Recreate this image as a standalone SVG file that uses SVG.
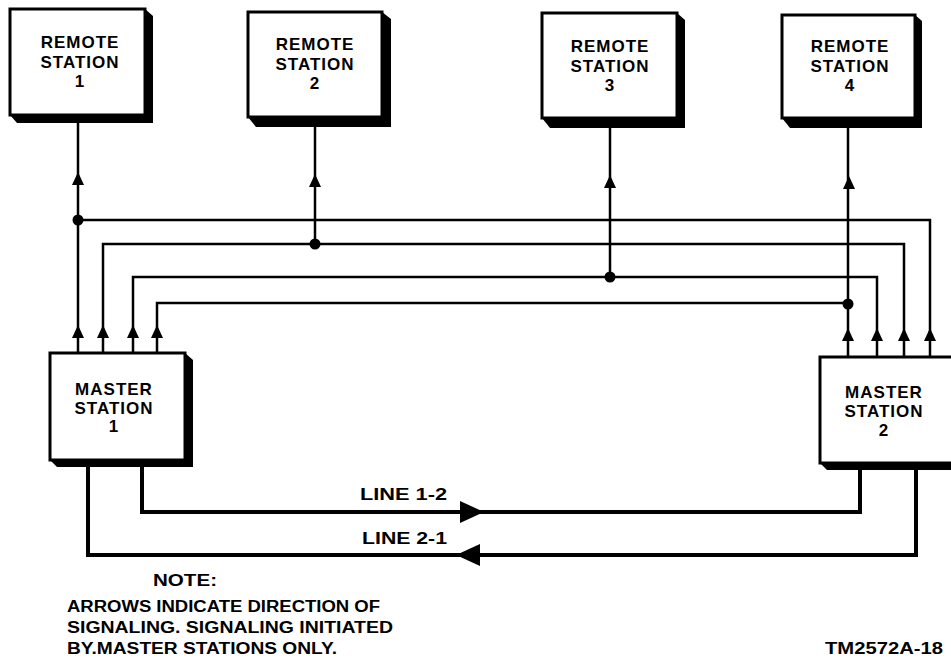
<svg xmlns="http://www.w3.org/2000/svg" width="951" height="660" viewBox="0 0 951 660">
<style>
.box{fill:#fff;stroke:#000;stroke-width:3}
.sh{fill:#000}
.t{font-family:"Liberation Sans",Arial,sans-serif;font-weight:bold;font-size:17px;fill:#000;text-anchor:middle;letter-spacing:1px}
.w{fill:none;stroke:#000;stroke-width:2.5;stroke-linejoin:miter}
.wt{fill:none;stroke:#000;stroke-width:4}
.ah{fill:#000}
.n{font-family:"Liberation Sans",Arial,sans-serif;font-weight:bold;font-size:16px;fill:#000}
</style>
<defs>
<path id="up" d="M0,0 L-6,13 L6,13 Z"/>
<circle id="dot" r="5.5"/>
</defs>

<g id="remote1">
<polygon class="sh" points="145,9 153,16 153,123 17,123 10,115"/>
<rect class="box" x="10" y="9" width="135" height="106"/>
<text class="t" x="80" y="48">REMOTE</text>
<text class="t" x="80" y="68">STATION</text>
<text class="t" x="80" y="87">1</text>
</g>
<g id="remote2">
<polygon class="sh" points="382,12 391,19 391,127 256,127 248,117"/>
<rect class="box" x="248" y="12" width="134" height="105"/>
<text class="t" x="315" y="50">REMOTE</text>
<text class="t" x="315" y="70">STATION</text>
<text class="t" x="315" y="89">2</text>
</g>
<g id="remote3">
<polygon class="sh" points="677,13 685,20 685,128 550,128 542,118"/>
<rect class="box" x="542" y="13" width="135" height="105"/>
<text class="t" x="610" y="52">REMOTE</text>
<text class="t" x="610" y="72">STATION</text>
<text class="t" x="610" y="91">3</text>
</g>
<g id="remote4">
<polygon class="sh" points="915,15 922,21 922,128 790,128 782,118"/>
<rect class="box" x="782" y="15" width="133" height="103"/>
<text class="t" x="850" y="52">REMOTE</text>
<text class="t" x="850" y="72">STATION</text>
<text class="t" x="850" y="91">4</text>
</g>
<g id="master1">
<polygon class="sh" points="185,353 193,360 193,467 57,467 50,460"/>
<rect class="box" x="50" y="353" width="135" height="107"/>
<text class="t" x="114" y="395">MASTER</text>
<text class="t" x="114" y="414">STATION</text>
<text class="t" x="114" y="432">1</text>
</g>
<g id="master2">
<polygon class="sh" points="827,470 820,463 960,463 960,470"/>
<rect class="box" x="820" y="357" width="140" height="106"/>
<text class="t" x="884" y="398">MASTER</text>
<text class="t" x="884" y="417">STATION</text>
<text class="t" x="884" y="436">2</text>
</g>

<g id="connectors">
<path class="w" d="M78,123 V353"/>
<path class="w" d="M78,220 H930 V357"/>
<path class="w" d="M103,353 V244 H904 V357"/>
<path class="w" d="M133,353 V277 H877 V357"/>
<path class="w" d="M157,353 V303 H848"/>
<path class="w" d="M848,128 V357"/>
<path class="w" d="M315,127 V244"/>
<path class="w" d="M610,128 V277"/>
<path class="wt" d="M142,467 V512 H860 V470"/>
<path class="wt" d="M88,467 V555 H916 V470"/>
<use href="#dot" x="78" y="220"/>
<use href="#dot" x="315" y="244"/>
<use href="#dot" x="610" y="277"/>
<use href="#dot" x="848" y="304"/>
<use class="ah" href="#up" x="78" y="172"/>
<use class="ah" href="#up" x="315" y="174"/>
<use class="ah" href="#up" x="610" y="175"/>
<use class="ah" href="#up" x="849" y="176"/>
<use class="ah" href="#up" x="78" y="325"/>
<use class="ah" href="#up" x="103" y="325"/>
<use class="ah" href="#up" x="133" y="325"/>
<use class="ah" href="#up" x="157" y="325"/>
<use class="ah" href="#up" x="848" y="328"/>
<use class="ah" href="#up" x="877" y="328"/>
<use class="ah" href="#up" x="904" y="328"/>
<use class="ah" href="#up" x="930" y="328"/>
<polygon class="ah" points="484,512 460,501 460,523"/>
<polygon class="ah" points="456,555 480,544 480,566"/>
</g>

<text class="n" x="360" y="500" font-size="17" textLength="87" lengthAdjust="spacingAndGlyphs">LINE 1-2</text>
<text class="n" x="362" y="544" font-size="17" textLength="85" lengthAdjust="spacingAndGlyphs">LINE 2-1</text>
<text class="n" x="153" y="586" font-size="18" textLength="64" lengthAdjust="spacingAndGlyphs">NOTE:</text>
<text class="n" x="67" y="612" textLength="313" lengthAdjust="spacingAndGlyphs">ARROWS INDICATE DIRECTION OF</text>
<text class="n" x="67" y="633" textLength="326" lengthAdjust="spacingAndGlyphs">SIGNALING. SIGNALING INITIATED</text>
<text class="n" x="67" y="654" textLength="270" lengthAdjust="spacingAndGlyphs">BY.MASTER STATIONS ONLY.</text>
<text class="n" x="825" y="654" textLength="118" lengthAdjust="spacingAndGlyphs">TM2572A-18</text>
</svg>
